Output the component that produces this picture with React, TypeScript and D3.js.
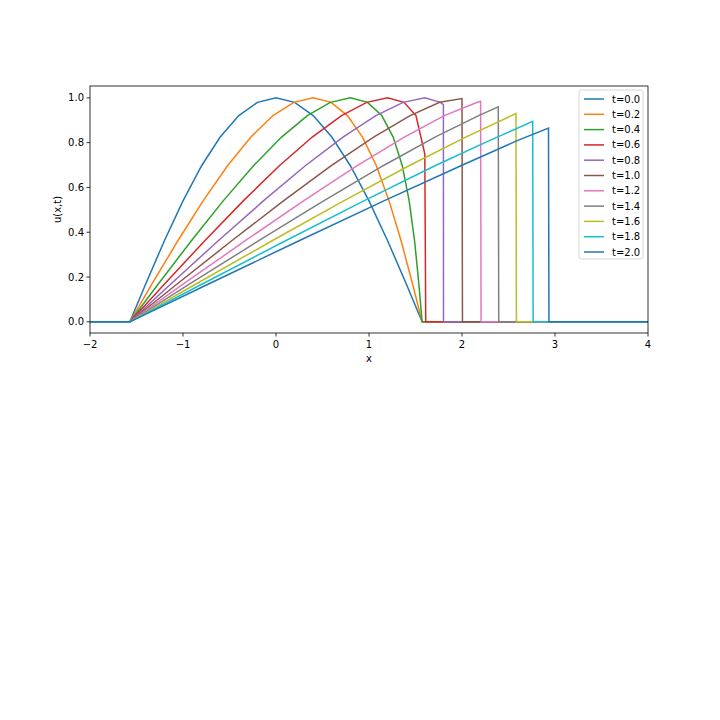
import * as d3 from 'd3'

const labels = ['t=0.0', 't=0.2', 't=0.4', 't=0.6', 't=0.8', 't=1.0', 't=1.2', 't=1.4', 't=1.6', 't=1.8', 't=2.0']
const colors = ['#1f77b4', '#ff7f0e', '#2ca02c', '#d62728', '#9467bd', '#8c564b', '#e377c2', '#7f7f7f', '#bcbd22', '#17becf', '#1f77b4']

// rising-part heights shared by the profiles
const uVals = [0, 0.17, 0.362, 0.54, 0.697, 0.825, 0.921, 0.98, 1, 0.98, 0.921, 0.825, 0.697, 0.54, 0.362, 0.17, 0]

const xs0 = [-1.571, -1.4, -1.2, -1.0, -0.8, -0.6, -0.4, -0.2, 0, 0.2, 0.4, 0.6, 0.8, 1.0, 1.2, 1.4, 1.571]
const xs1 = [-1.571, -1.332, -1.055, -0.784, -0.521, -0.27, -0.032, 0.192, 0.4, 0.592, 0.768, 0.93, 1.079, 1.216, 1.345, 1.468, 1.571]
const xs2 = [-1.571, -1.264, -0.91, -0.568, -0.242, 0.06, 0.337, 0.584, 0.8, 0.984, 1.137, 1.26, 1.358, 1.432, 1.49, 1.536, 1.571]
const s3: [number, number][] = [[-1.571, 0], [-1.196, 0.17], [-0.766, 0.362], [-0.352, 0.54], [0.036, 0.697], [0.39, 0.825], [0.705, 0.921], [0.976, 0.98], [1.2, 1], [1.376, 0.98], [1.505, 0.921], [1.6, 0.75], [1.61, 0]]
const s4: [number, number][] = [[-1.571, 0], [-1.128, 0.17], [-0.621, 0.362], [-0.136, 0.54], [0.315, 0.697], [0.72, 0.825], [1.074, 0.921], [1.368, 0.98], [1.6, 1], [1.768, 0.98], [1.8, 0.97], [1.801, 0]]
const s5: [number, number][] = [[-1.571, 0], [-1.06, 0.17], [-0.476, 0.362], [0.08, 0.54], [0.594, 0.697], [1.05, 0.825], [1.442, 0.921], [1.76, 0.98], [2.0, 0.997], [2.005, 0]]
const s6: [number, number][] = [[-1.571, 0], [-0.992, 0.17], [-0.331, 0.362], [0.296, 0.54], [0.873, 0.697], [1.38, 0.825], [1.81, 0.921], [2.152, 0.978], [2.2, 0.985], [2.205, 0]]
const s7: [number, number][] = [[-1.571, 0], [-0.924, 0.17], [-0.186, 0.362], [0.512, 0.54], [1.152, 0.697], [1.71, 0.825], [2.179, 0.921], [2.39, 0.96], [2.395, 0]]
const s8: [number, number][] = [[-1.571, 0], [-0.856, 0.17], [-0.042, 0.362], [0.728, 0.54], [1.43, 0.697], [2.04, 0.825], [2.58, 0.93], [2.585, 0]]
const s9: [number, number][] = [[-1.571, 0], [-0.788, 0.17], [0.103, 0.362], [0.944, 0.54], [1.709, 0.697], [2.3, 0.81], [2.76, 0.895], [2.765, 0]]
const s10: [number, number][] = [[-1.571, 0], [-0.72, 0.17], [0.248, 0.362], [1.16, 0.54], [1.988, 0.697], [2.6, 0.81], [2.93, 0.865], [2.935, 0]]

const zip = (xs: number[]) => xs.map((x, i) => [x, uVals[i]] as [number, number])
const series = [zip(xs0), zip(xs1), zip(xs2), s3, s4, s5, s6, s7, s8, s9, s10].map(
  (s) => [[-2, 0], ...s, [4, 0]] as [number, number][]
)

const xTicks = [-2, -1, 0, 1, 2, 3, 4]
const yTicks = [0, 0.2, 0.4, 0.6, 0.8, 1.0]

export default function App() {
  const L = 90, R = 648, T = 86, B = 333
  const x = d3.scaleLinear().domain([-2, 4]).range([L, R])
  const y = d3.scaleLinear().domain([-0.05, 1.053]).range([B, T])
  const line = d3.line<[number, number]>().x((d) => x(d[0])).y((d) => y(d[1]))
  const font = 'DejaVu Sans, sans-serif'
  return (
    <svg width={720} height={720} style={{ position: 'absolute', left: 0, top: 0, background: '#fff' }} fontFamily={font}>
      <defs>
        <clipPath id="c"><rect x={L} y={T} width={R - L} height={B - T} /></clipPath>
      </defs>
      <g clipPath="url(#c)">
        {series.map((s, i) => (
          <path key={i} d={line(s)!} fill="none" stroke={colors[i]} strokeWidth={1.5} />
        ))}
      </g>
      <rect x={L} y={T} width={R - L} height={B - T} fill="none" stroke="#000" strokeWidth={0.8} />
      {xTicks.map((t) => (
        <g key={t}>
          <line x1={x(t)} x2={x(t)} y1={B} y2={B + 3.5} stroke="#000" strokeWidth={0.8} />
          <text x={x(t)} y={B + 15} fontSize={10} textAnchor="middle">{t < 0 ? '\u2212' + Math.abs(t) : t}</text>
        </g>
      ))}
      {yTicks.map((t) => (
        <g key={t}>
          <line x1={L - 3.5} x2={L} y1={y(t)} y2={y(t)} stroke="#000" strokeWidth={0.8} />
          <text x={L - 6} y={y(t) + 3.5} fontSize={10} textAnchor="end">{t.toFixed(1)}</text>
        </g>
      ))}
      <text x={(L + R) / 2} y={362} fontSize={10} textAnchor="middle">x</text>
      <text transform={`translate(61,${(T + B) / 2}) rotate(-90)`} fontSize={10} textAnchor="middle">u(x,t)</text>
      <rect x={579} y={90} width={64} height={169} rx={2} fill="#fff" stroke="#ccc" strokeWidth={0.8} />
      {labels.map((l, i) => (
        <g key={l} transform={`translate(0,${99 + i * 15.3})`}>
          <line x1={584} x2={604} y1={0} y2={0} stroke={colors[i]} strokeWidth={1.5} />
          <text x={612} y={3.5} fontSize={10}>{l}</text>
        </g>
      ))}
    </svg>
  )
}
